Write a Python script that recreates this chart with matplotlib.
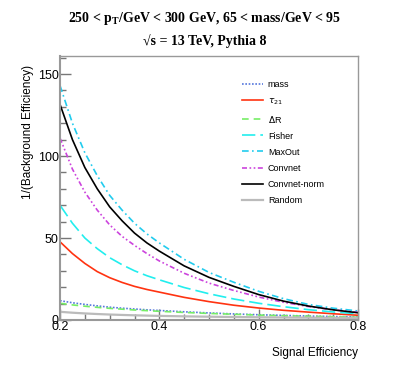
import matplotlib
matplotlib.use("Agg")
import matplotlib.pyplot as plt
from matplotlib.ticker import MultipleLocator

# signal efficiency grid
sig_eff = [0.2, 0.225, 0.25, 0.275, 0.3, 0.325, 0.35, 0.375, 0.4, 0.45, 0.5, 0.55, 0.6, 0.65, 0.7, 0.75, 0.8]

mass = [11.8, 10.5, 9.5, 8.6, 7.8, 7.2, 6.7, 6.2, 5.8, 5.0, 4.3, 3.7, 3.2, 2.8, 2.4, 2.1, 1.8]
tau21 = [47.7, 40.5, 34.5, 29.5, 25.8, 22.9, 20.5, 18.6, 17.0, 13.8, 11.2, 9.0, 7.3, 5.9, 4.8, 3.8, 2.9]
deltaR = [10.2, 9.2, 8.4, 7.7, 7.1, 6.6, 6.1, 5.7, 5.3, 4.6, 4.0, 3.5, 3.0, 2.6, 2.3, 2.0, 1.7]
fisher = [70, 59, 50, 43.5, 38, 33.7, 30, 27, 24.5, 19.8, 16, 12.8, 10.2, 8.1, 6.3, 4.9, 3.8]
maxout = [143, 120, 102, 88, 76, 67, 59, 52.5, 47, 37, 29, 23, 17.5, 13, 9.5, 7.2, 5.5]
convnet = [111, 92, 78, 67, 58, 51, 45.5, 40.5, 36, 28.5, 22.5, 18, 14, 10.8, 8.2, 6.2, 4.7]
convnet_norm = [131.5, 110, 93, 80, 69, 60.5, 53, 47, 42, 33, 26, 20.5, 15.5, 11.5, 8.5, 6.2, 4.4]
random_ = [5.0, 4.444, 4.0, 3.636, 3.333, 3.077, 2.857, 2.667, 2.5, 2.222, 2.0, 1.818, 1.667, 1.538, 1.429, 1.333, 1.25]

plt.rcParams['font.family'] = ['Liberation Sans', 'DejaVu Sans']

fig = plt.figure(figsize=(3.99, 3.79), dpi=100)
ax = fig.add_axes([0.1504, 0.1557, 0.7469, 0.6965])

ax.plot(sig_eff, mass, color='#5577dd', linestyle=(0, (1, 1)), lw=1.2, label='mass')
ax.plot(sig_eff, tau21, color='#ff3311', linestyle='-', lw=1.2, label=r'$\tau_{21}$')
ax.plot(sig_eff, deltaR, color='#77ee66', linestyle=(0, (4, 3)), lw=1.2, label=r'$\Delta$R')
ax.plot(sig_eff, fisher, color='#22eeee', linestyle=(0, (8, 3)), lw=1.2, label='Fisher')
ax.plot(sig_eff, maxout, color='#22ccee', linestyle=(0, (4, 2, 1, 2)), lw=1.2, label='MaxOut')
ax.plot(sig_eff, convnet, color='#cc44dd', linestyle=(0, (3, 1.5, 1, 1.5, 1, 1.5)), lw=1.2, label='Convnet')
ax.plot(sig_eff, convnet_norm, color='black', linestyle='-', lw=1.2, label='Convnet-norm')
ax.plot(sig_eff, random_, color='#bbbbbb', linestyle='-', lw=1.6, label='Random')

ax.set_xlim(0.2, 0.8)
ax.set_ylim(0, 161)
ax.xaxis.set_major_locator(MultipleLocator(0.2))
ax.xaxis.set_minor_locator(MultipleLocator(0.05))
ax.yaxis.set_major_locator(MultipleLocator(50))
ax.yaxis.set_minor_locator(MultipleLocator(10))
ax.tick_params(which='both', direction='in', color='#777777', labelsize=9)
ax.tick_params(which='major', length=8, width=1)
ax.tick_params(which='minor', length=4, width=1)
ax.tick_params(axis='x', pad=1)
ax.tick_params(axis='y', pad=1)
for s in ax.spines.values():
    s.set_color('#999999')
    s.set_linewidth(1.0)
ax.spines['left'].set_linewidth(1.5)
ax.spines['bottom'].set_linewidth(1.5)

ax.set_xlabel('Signal Efficiency', fontsize=8.5, loc='right', labelpad=10)
ax.set_ylabel('1/(Background Efficiency)', fontsize=8.5, loc='top')
ax.yaxis.set_label_coords(-0.088, 0.966)

leg = ax.legend(loc='upper left', bbox_to_anchor=(0.585, 0.94), frameon=False, fontsize=6.5,
                handlelength=2.3, labelspacing=0.78, handletextpad=0.5)

serif = ['Liberation Serif', 'DejaVu Serif']
fig.text(0.513, 0.952, r'250 < p$_\mathregular{T}$/GeV < 300 GeV, 65 < mass/GeV < 95',
         ha='center', va='center', fontsize=10, fontweight='bold', family=serif)
fig.text(0.513, 0.893, '\u221as = 13 TeV, Pythia 8', ha='center', va='center',
         fontsize=10, fontweight='bold', family=serif)

fig.savefig('out.png', dpi=100)
